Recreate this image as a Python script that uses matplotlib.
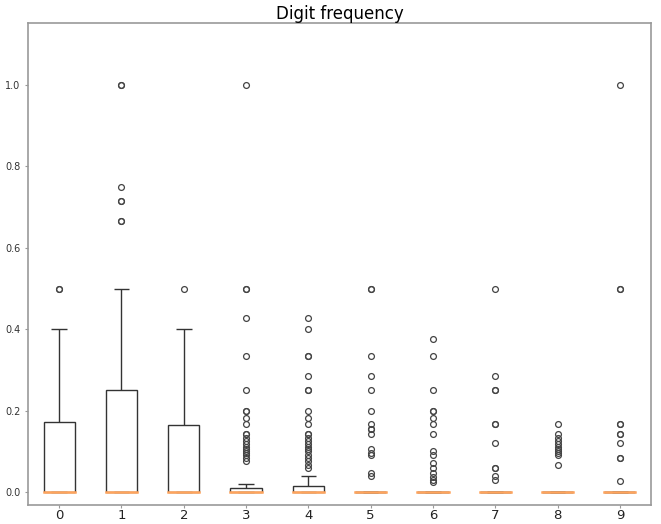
import matplotlib
matplotlib.use("Agg")
import matplotlib.pyplot as plt

digits = ["0", "1", "2", "3", "4", "5", "6", "7", "8", "9"]
medians = [0, 0, 0, 0, 0, 0, 0, 0, 0, 0]
q1 = [0, 0, 0, 0, 0, 0, 0, 0, 0, 0]
q3 = [0.172, 0.25, 0.165, 0.009, 0.016, 0, 0, 0, 0, 0]
whisker_lo = [0, 0, 0, 0, 0, 0, 0, 0, 0, 0]
whisker_hi = [0.4, 0.5, 0.4, 0.021, 0.039, 0, 0, 0, 0, 0]
fliers_0 = [0.5, 0.5]
fliers_1 = [1.0, 1.0, 0.75, 0.714, 0.714, 0.667, 0.667]
fliers_2 = [0.5]
fliers_3 = [1.0, 0.5, 0.5, 0.4286, 0.3333, 0.25, 0.2, 0.2, 0.1818, 0.1667,
            0.1429, 0.1429, 0.1333, 0.125, 0.1176, 0.1111, 0.1053, 0.1,
            0.0952, 0.0909, 0.0833, 0.0769]
fliers_4 = [0.4286, 0.4, 0.3333, 0.3333, 0.2857, 0.25, 0.25, 0.2, 0.1818,
            0.1667, 0.1429, 0.1429, 0.1333, 0.125, 0.1176, 0.1111, 0.1053,
            0.1, 0.0909, 0.0833, 0.0769, 0.0667, 0.0588]
fliers_5 = [0.5, 0.5, 0.3333, 0.2857, 0.25, 0.2, 0.1667, 0.1538, 0.1538,
            0.1429, 0.1053, 0.0952, 0.0909, 0.0476, 0.04]
fliers_6 = [0.375, 0.3333, 0.25, 0.2, 0.2, 0.1818, 0.1667, 0.1429, 0.1,
            0.0909, 0.0714, 0.0588, 0.0476, 0.037, 0.0303, 0.0244]
fliers_7 = [0.5, 0.2857, 0.25, 0.25, 0.1667, 0.1667, 0.12, 0.0588, 0.0588,
            0.04, 0.0303]
fliers_8 = [0.1667, 0.1429, 0.1333, 0.125, 0.1176, 0.1111, 0.1053, 0.1,
            0.0952, 0.0909, 0.0667]
fliers_9 = [1.0, 0.5, 0.5, 0.1667, 0.1667, 0.1429, 0.1429, 0.12, 0.0833,
            0.0833, 0.0278]
fliers = [fliers_0, fliers_1, fliers_2, fliers_3, fliers_4, fliers_5,
          fliers_6, fliers_7, fliers_8, fliers_9]
title = "Digit frequency"
yticks = [0.0, 0.2, 0.4, 0.6, 0.8, 1.0]

stats = []
for i, d in enumerate(digits):
    stats.append(dict(med=medians[i], q1=q1[i], q3=q3[i],
                      whislo=whisker_lo[i], whishi=whisker_hi[i],
                      fliers=fliers[i], label=d))

fig = plt.figure(figsize=(6.61, 5.24), dpi=100)
ax = fig.add_axes([0.0424, 0.036, 0.9425, 0.920])
box_col = "#333333"
ax.bxp(stats, positions=range(1, 11), widths=0.5,
       boxprops=dict(color=box_col, linewidth=1.0, solid_joinstyle="bevel",
                     solid_capstyle="butt"),
       whiskerprops=dict(color=box_col, linewidth=1.0, solid_capstyle="butt"),
       capprops=dict(color=box_col, linewidth=1.0, solid_capstyle="butt"),
       medianprops=dict(color="#ffa45c", linewidth=1.8, zorder=5,
                        solid_capstyle="projecting"),
       flierprops=dict(marker="o", markerfacecolor="none",
                       markeredgecolor="#444444", markersize=4.2,
                       markeredgewidth=0.9))
ax.set_xlim(0.5, 10.5)
ax.set_ylim(-0.032, 1.152)
ax.set_yticks(yticks)
ax.set_yticklabels([f"{t:.1f}" for t in yticks])
ax.tick_params(axis="y", labelsize=7, length=2, colors="#999999",
               labelcolor="#333333")
ax.tick_params(axis="x", labelsize=9.5, length=2.5, colors="#999999",
               labelcolor="#222222", pad=0.5)
for s in ax.spines.values():
    s.set_color("#999999")
    s.set_linewidth(1.2)
ax.set_title(title, fontsize=12, pad=3)
fig.savefig("out.png", dpi=100)
